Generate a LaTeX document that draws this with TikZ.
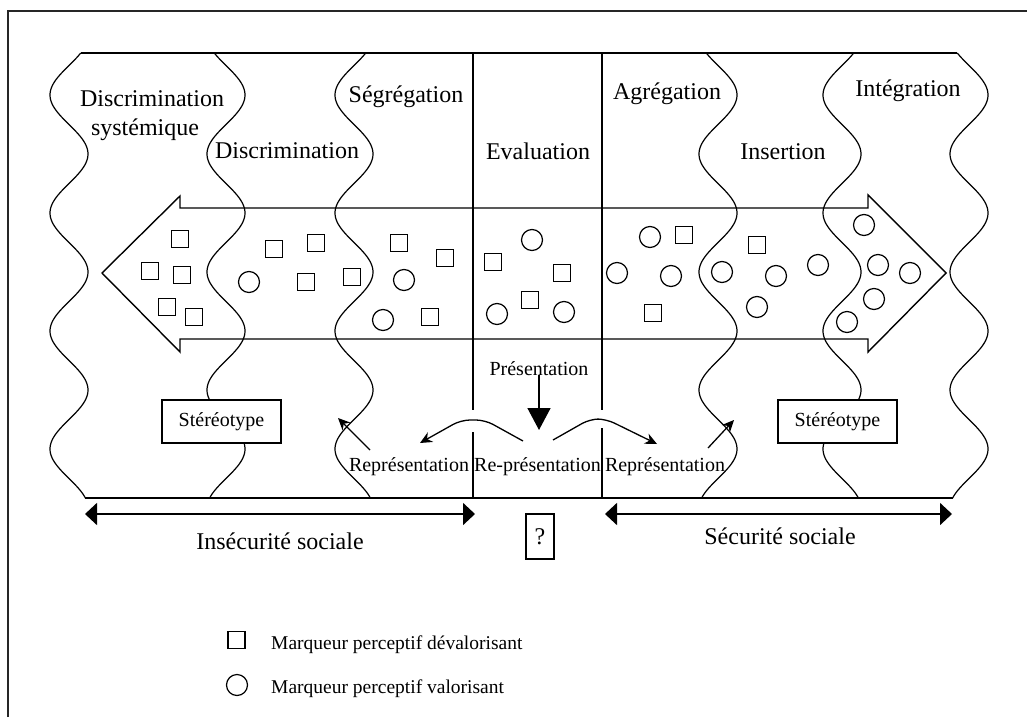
\documentclass[tikz,border=0pt]{standalone}
\usepackage{fontspec}
\setmainfont{Liberation Serif}
\usetikzlibrary{arrows.meta}
\newcommand\wavyline[2]{\draw[wave] plot[domain=53:498, samples=220, variable=\t] ({#1 #2 19*cos((\t-95)*3.050847)},\t);}
\begin{document}
\begin{tikzpicture}[x=1pt,y=-1pt,
  wave/.style={line width=1.2pt, black},
  panel/.style={line width=1.7pt, black},
  outline/.style={line width=1.4pt, black},
  sq/.style={draw, line width=1.4pt, minimum size=17pt, inner sep=0pt},
  ci/.style={draw, circle, line width=1.2pt, minimum size=21pt, inner sep=0pt},
  lab/.style={font=\fontsize{24}{28}\selectfont, inner sep=0pt, anchor=base},
  sml/.style={font=\fontsize{20}{24}\selectfont, inner sep=0pt, anchor=base},
  leg/.style={font=\fontsize{19.5}{22}\selectfont, inner sep=0pt, anchor=base west},
  stbox/.style={draw, fill=white, line width=1.5pt, minimum width=119pt, minimum height=43pt, inner sep=0pt, font=\fontsize{20}{24}\selectfont},
  arr/.style={line width=1.3pt, -{Stealth[length=12pt,width=11pt]}},
  darr/.style={line width=1.7pt, {Triangle[width=22pt,length=12pt]}-{Triangle[width=22pt,length=12pt]}}
]
\useasboundingbox (0,0) rectangle (1027,717);
% outer frame (cut by the page)
\draw[line width=2pt, black!85] (8,717) -- (8,11) -- (1027,11);

% panel top and bottom lines
\draw[panel] (80.7,53) -- (957.3,53);
\draw[panel] (85,498) -- (952.6,498);

% wavy boundaries
\wavyline{69}{-}
\wavyline{226}{+}
\wavyline{354}{-}
\wavyline{718}{+}
\wavyline{842}{-}
\wavyline{969}{+}

% vertical lines
\draw[panel] (473,53) -- (473,410);
\draw[panel] (473,432) -- (473,498);
\draw[panel] (602,53) -- (602,410);
\draw[panel] (602,428) -- (602,498);

% big double arrow
\draw[outline] (180,208) -- (180,196) -- (102,273) -- (180,352) -- (180,339)
  -- (868,339) -- (868,352) -- (946,273) -- (868,195) -- (868,208) -- cycle;

% titles
\node[lab] (ds1) at (152,106) {Discrimination};
\node[lab] (ds2) at (145,135) {systémique};
\node[lab] (disc) at (287,158) {Discrimination};
\node[lab] (seg) at (406,102) {Ségrégation};
\node[lab] (eval) at (538,159) {Evaluation};
\node[lab] (agr) at (667,99) {Agrégation};
\node[lab] (ins) at (783,159) {Insertion};
\node[lab] (integ) at (908,96) {Intégration};

% markers: squares
\node[sq] (s1) at (180,239) {};
\node[sq] (s2) at (150,271) {};
\node[sq] (s3) at (182,275) {};
\node[sq] (s4) at (167,307) {};
\node[sq] (s5) at (194,317) {};
\node[sq] (s6) at (274,249) {};
\node[sq] (s7) at (316,243) {};
\node[sq] (s8) at (306,282) {};
\node[sq] (s9) at (352,277) {};
\node[sq] (s10) at (399,243) {};
\node[sq] (s11) at (445,258) {};
\node[sq] (s12) at (430,317) {};
\node[sq] (s13) at (493,262) {};
\node[sq] (s14) at (562,273) {};
\node[sq] (s15) at (530,300) {};
\node[sq] (s16) at (684,235) {};
\node[sq] (s17) at (653,313) {};
\node[sq] (s18) at (757,245) {};
% markers: circles
\node[ci] (c1) at (249,282) {};
\node[ci] (c2) at (404,280) {};
\node[ci] (c3) at (383,320) {};
\node[ci] (c4) at (532,240) {};
\node[ci] (c5) at (497,314) {};
\node[ci] (c6) at (564,312) {};
\node[ci] (c7) at (650,237) {};
\node[ci] (c8) at (617,273) {};
\node[ci] (c9) at (671,276) {};
\node[ci] (c10) at (722,272) {};
\node[ci] (c11) at (776,276) {};
\node[ci] (c12) at (818,265) {};
\node[ci] (c13) at (757,307) {};
\node[ci] (c14) at (864,225) {};
\node[ci] (c15) at (878,265) {};
\node[ci] (c16) at (910,273) {};
\node[ci] (c17) at (874,299) {};
\node[ci] (c18) at (847,322) {};

% stereotype boxes
\node[stbox] (stL) at (221.5,421.5) {Stéréotype};
\node[stbox] (stR) at (837.5,421.5) {Stéréotype};

% presentation
\node[sml] (pres) at (539,375) {Présentation};
\coordinate (presTip) at (539,430);
\draw[line width=1.5pt, -{Triangle[width=23pt,length=22pt]}] (pres.south) -- (presTip);

\node[sml] (repL) at (409,471) {Représentation};
\node[sml] (repM) at (537.5,471) {Re-présentation};
\node[sml] (repR) at (665,471) {Représentation};

% curved arrows
\coordinate (lcA) at (523,441);
\coordinate (lcB) at (420,443);
\coordinate (rcA) at (553,440);
\coordinate (rcB) at (657,444);
\draw[arr, rounded corners=9pt] (lcA) -- (485,420) -- (461,420) -- (lcB);
\draw[arr, rounded corners=9pt] (rcA) -- (590,419) -- (606,419) -- (rcB);

% arrows towards stereotypes
\coordinate (ulA) at (370,450);
\coordinate (ulB) at (338,418);
\coordinate (urA) at (708,448);
\coordinate (urB) at (734,420);
\draw[arr] (ulA) -- (ulB);
\draw[arr] (urA) -- (urB);

% bottom scale
\coordinate (inA) at (85,514);
\coordinate (inB) at (475,514);
\coordinate (seA) at (605,514);
\coordinate (seB) at (952,514);
\draw[darr] (inA) -- (inB);
\draw[darr] (seA) -- (seB);
\node[lab] (insec) at (280,549) {Insécurité sociale};
\node[lab] (secu) at (780,544) {Sécurité sociale};
\node[draw, line width=1.5pt, minimum width=28pt, minimum height=45pt, inner sep=0pt, font=\fontsize{24}{28}\selectfont] (q) at (540,536.5) {?};

% legend
\node[sq] (legS) at (236.5,640) {};
\node[ci] (legC) at (237,685) {};
\node[leg] (legST) at (271,649) {Marqueur perceptif dévalorisant};
\node[leg] (legCT) at (271,693) {Marqueur perceptif valorisant};
\end{tikzpicture}
\end{document}
